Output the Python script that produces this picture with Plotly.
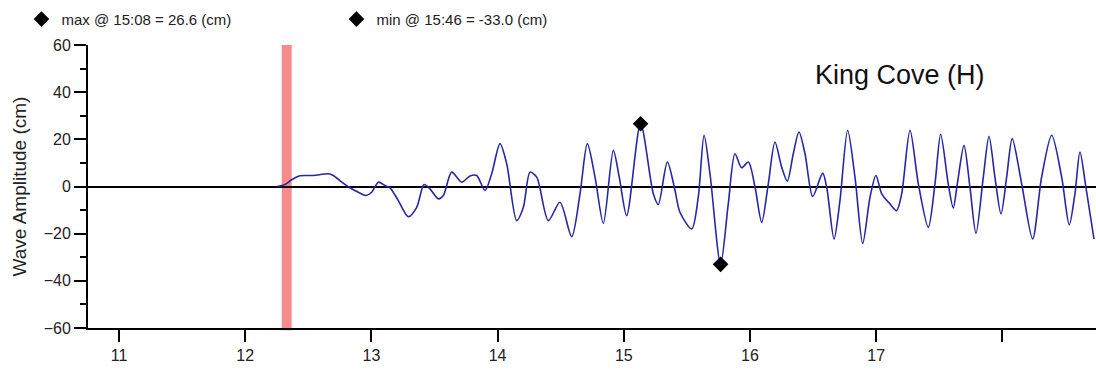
import plotly.graph_objects as go

# time in hours, amplitude in cm
time_h = [12.250, 12.315, 12.368, 12.434, 12.540, 12.658, 12.698, 12.765, 12.830, 12.896,
          12.957, 13.002, 13.055, 13.108, 13.147, 13.213, 13.292, 13.359, 13.417, 13.464,
          13.530, 13.570, 13.636, 13.716, 13.781, 13.834, 13.900, 13.953, 14.019, 14.072,
          14.151, 14.204, 14.257, 14.310, 14.402, 14.494, 14.587, 14.653, 14.711, 14.772,
          14.838, 14.917, 14.964, 15.023, 15.133, 15.234, 15.273, 15.345, 15.406, 15.445,
          15.538, 15.590, 15.636, 15.683, 15.767, 15.828, 15.881, 15.934, 15.987, 16.040,
          16.093, 16.145, 16.198, 16.251, 16.296, 16.343, 16.388, 16.436, 16.497, 16.576,
          16.608, 16.666, 16.713, 16.774, 16.832, 16.893, 16.951, 16.998, 17.044, 17.109,
          17.162, 17.202, 17.268, 17.334, 17.413, 17.466, 17.511, 17.571, 17.611, 17.643,
          17.696, 17.743, 17.791, 17.849, 17.894, 17.941, 17.989, 18.034, 18.078, 18.153,
          18.240, 18.311, 18.391, 18.470, 18.530, 18.575, 18.615, 18.662, 18.726]
amp_cm = [0.0, 0.85, 2.85, 4.55, 4.68, 5.40, 4.68, 1.83, -0.55, -2.43,
          -3.83, -2.43, 1.83, 0.43, -0.55, -5.96, -12.77, -8.81, 0.85, -0.98,
          -5.23, -3.83, 6.09, 1.83, 4.5, 4.68, -1.70, 5.40, 18.17, 9.66,
          -14.47, -8.81, 6.09, 3.96, -14.47, -6.68, -21.28, -3.11, 18.17, 3.96,
          -15.62, 15.32, 3.96, -12.34, 26.6, -3.11, -7.66, 10.34, -1.70, -10.94,
          -18.0, -4.55, 21.70, 5.40, -33.0, -7.36, 13.91, 7.96, 10.34, -0.30,
          -15.19, 1.15, 18.85, 8.21, 2.26, 13.91, 23.11, 13.91, -4.26, 5.66,
          -0.30, -22.26, -5.96, 23.83, 3.96, -24.13, -4.55, 4.68, -3.11, -7.36,
          -10.21, -3.11, 23.83, 1.15, -17.32, 1.15, 22.13, 1.15, -9.06, 1.15,
          17.45, -0.30, -19.87, 3.96, 21.28, 3.96, -11.62, 3.96, 20.30, 1.15,
          -22.26, 3.96, 21.70, 3.96, -16.30, -3.11, 14.60, -0.30, -22.26]

max_t, max_v = 15.133, 26.6
min_t, min_v = 15.767, -33.0
arrival_t = [12.289, 12.368]

x_ticks = [11, 12, 13, 14, 15, 16, 17, 18]
x_tick_labels = ["11", "12", "13", "14", "15", "16", "17", ""]
station = "King Cove (H)"

fig = go.Figure()

fig.add_shape(type="rect", xref="x", yref="paper", x0=arrival_t[0], x1=arrival_t[1],
              y0=-0.008, y1=1.0, fillcolor="rgba(242,110,110,0.8)", line_width=0,
              layer="below")

fig.add_trace(go.Scatter(x=time_h, y=amp_cm, mode="lines",
                         line=dict(color="#2626a6", width=1.6, shape="spline", smoothing=0.8),
                         showlegend=False, hoverinfo="skip"))

fig.add_trace(go.Scatter(x=[max_t], y=[max_v], mode="markers",
                         marker=dict(symbol="diamond", size=12, color="black"),
                         name="max @ 15:08 = 26.6 (cm)"))
fig.add_trace(go.Scatter(x=[min_t], y=[min_v], mode="markers",
                         marker=dict(symbol="diamond", size=12, color="black"),
                         name="min @ 15:46 = -33.0 (cm)"))

fig.add_annotation(text=station, xref="paper", yref="paper", x=0.719, y=0.893,
                   xanchor="left", yanchor="middle", showarrow=False,
                   font=dict(size=27, color="#111", family="Liberation Sans, Arial"))
fig.add_annotation(text="Wave Amplitude (cm)", xref="paper", yref="paper", x=-0.0675, y=0.5,
                   xanchor="center", yanchor="middle", textangle=-90, showarrow=False,
                   font=dict(size=19, color="#222", family="Liberation Sans, Arial"))

fig.update_layout(
    width=1096, height=372,
    margin=dict(l=88, r=0, t=45, b=44, autoexpand=False),
    paper_bgcolor="white", plot_bgcolor="white",
    font=dict(family="Liberation Sans, Arial", size=16, color="#222"),
    legend=dict(orientation="h", x=-0.066, y=1.149, xanchor="left", yanchor="top",
                entrywidth=270, entrywidthmode="pixels",
                font=dict(size=15, color="#222"), bgcolor="rgba(0,0,0,0)"),
    xaxis=dict(range=[10.754, 18.742], tickmode="array", tickvals=x_ticks,
               ticktext=x_tick_labels, ticks="outside", ticklen=12, tickwidth=1.5,
               tickcolor="black", showline=True, linecolor="black", linewidth=2,
               showgrid=False, zeroline=False),
    yaxis=dict(range=[-60, 60], tickvals=[-60, -40, -20, 0, 20, 40, 60], ticks="outside",
               ticklen=12, tickwidth=1.5, tickcolor="black", showline=True,
               linecolor="black", linewidth=2, showgrid=False,
               zeroline=True, zerolinecolor="black", zerolinewidth=1.5,
               minor=dict(dtick=10, ticks="outside", ticklen=6, tickwidth=1.5,
                          tickcolor="black", showgrid=False)),
)

fig.write_html("out.html", config={"displayModeBar": False},
               post_script="document.body.style.margin='0px';")
